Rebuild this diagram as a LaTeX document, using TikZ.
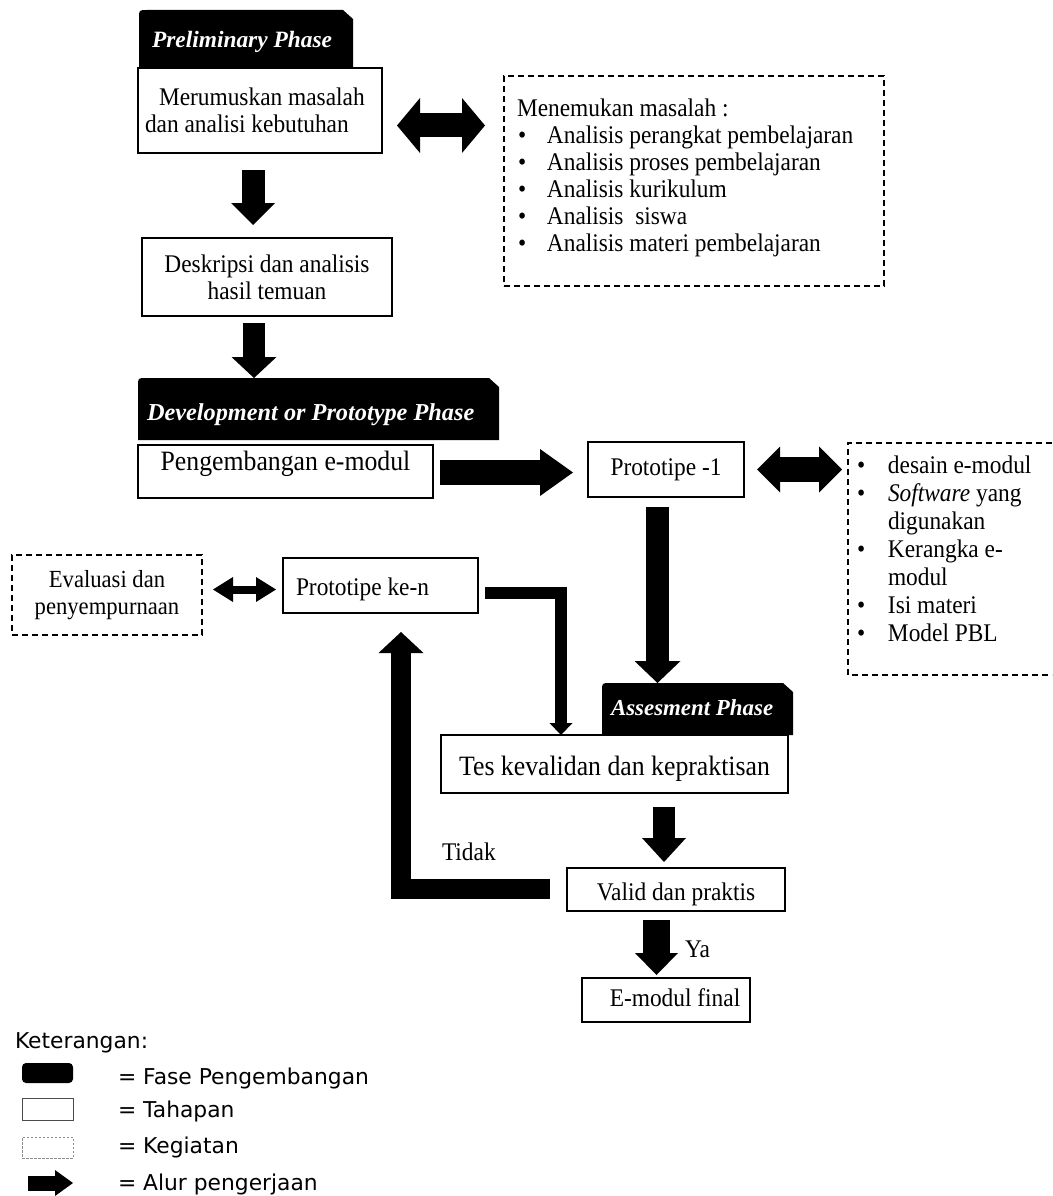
\documentclass[tikz,border=0pt]{standalone}
\usepackage{fontspec}
\setmainfont{Liberation Serif}
\newfontfamily\tallfont{Liberation Serif}[FakeStretch=0.92]
\newfontfamily\legendfont{DejaVu Sans}
\usetikzlibrary{arrows.meta}
\newcommand\mfont{\tallfont\fontsize{25.4}{27}\selectfont}
\newcommand\bgfont{\tallfont\fontsize{28}{30}\selectfont}
\newcommand\evfont{\tallfont\fontsize{24.6}{27}\selectfont}
\newcommand\lfont{\legendfont\fontsize{21.8}{25}\selectfont}
\newcommand\tabfont[1]{\fontsize{#1}{28}\selectfont\bfseries\itshape}
\tikzset{
  box/.style={draw=black, line width=1.8pt, font=\mfont, align=center},
  dbox/.style={draw=black, line width=1.6pt, dash pattern=on 6pt off 4pt},
  tab/.style={fill=white, text=white, align=flush left,
    path picture={\fill[black] (path picture bounding box.south west)
      -- ([yshift=-8pt]path picture bounding box.north west)
      .. controls (path picture bounding box.north west) .. ([xshift=8pt]path picture bounding box.north west)
      -- ([xshift=-10pt]path picture bounding box.north east)
      -- ([yshift=-9pt]path picture bounding box.north east)
      -- (path picture bounding box.south east) -- cycle;}},
  barrow/.style n args={3}{line width=#1, -{Triangle[length=#2, width=#3, line width=0pt]}},
  dbarrow/.style n args={3}{line width=#1, {Triangle[length=#2, width=#3, line width=0pt]}-{Triangle[length=#2, width=#3, line width=0pt]}},
  lbl/.style={font=\mfont, anchor=base west},
  ltext/.style={font=\lfont, anchor=base west}
}
\begin{document}
\begin{tikzpicture}[x=1pt, y=-1pt, every node/.style={inner sep=0pt, outer sep=0pt}]
\fill[white] (0,0) rectangle (1052,1196);
\useasboundingbox (0,0) rectangle (1052,1196);

% ---- boxes (Tahapan)
\node[box, minimum width=244pt, minimum height=85pt, text width=230pt, align=flush left] (m1) at (260,110.5)
  {\hspace*{14pt}Merumuskan masalah\\dan analisi kebutuhan};
\node[box, minimum width=250pt, minimum height=78pt] (d2) at (267,277) {Deskripsi dan analisis\\hasil temuan};
\node[box, font=\bgfont, minimum width=295pt, minimum height=53pt, text height=17.7pt, text depth=20.7pt] (m2) at (285.5,471.5) {Pengembangan e-modul};
\node[box, minimum width=156pt, minimum height=55pt] (pr1) at (666,469.5) {Prototipe -1};
\node[box, minimum width=195pt, minimum height=55pt, text width=169pt, align=flush left, text height=24pt, text depth=5pt] (pk) at (380.5,585.5) {Prototipe ke-n};
\node[box, font=\bgfont, minimum width=347pt, minimum height=58pt, text height=27.6pt, text depth=5.6pt] (t1) at (614.5,764) {Tes kevalidan dan kepraktisan};
\node[box, minimum width=218pt, minimum height=43pt, text height=26pt, text depth=5pt] (v1) at (676,889.5) {Valid dan praktis};
\node[box, minimum width=168pt, minimum height=44pt, text height=16pt, text depth=4pt] (e1) at (666,1000) {\hspace{18pt}E-modul final};

% ---- dashed boxes (Kegiatan)
\node[dbox, minimum width=380pt, minimum height=210pt] (d1) at (694,181) {};
\node[font=\mfont, anchor=base west] (d1t) at (517,117) {\vtop{\baselineskip=27pt
  \hbox{Menemukan masalah :}
  \hbox{\makebox[30pt][l]{\hspace{1pt}•}Analisis perangkat pembelajaran}
  \hbox{\makebox[30pt][l]{\hspace{1pt}•}Analisis proses pembelajaran}
  \hbox{\makebox[30pt][l]{\hspace{1pt}•}Analisis kurikulum}
  \hbox{\makebox[30pt][l]{\hspace{1pt}•}Analisis~ siswa}
  \hbox{\makebox[30pt][l]{\hspace{1pt}•}Analisis materi pembelajaran}}};

\node[minimum width=204pt, minimum height=232pt] (dr) at (950,559) {};
\draw[line width=1.6pt, dash pattern=on 6pt off 4pt] (dr.north east) -- (dr.north west) -- (dr.south west) -- (dr.south east);
\node[font=\mfont, anchor=base west] (drt) at (857,473) {\vtop{\baselineskip=28pt
  \hbox{\makebox[31pt][l]{•}desain e-modul}
  \hbox{\makebox[31pt][l]{•}\textit{Software} yang}
  \hbox{\hspace{31pt}digunakan}
  \hbox{\makebox[31pt][l]{•}Kerangka e-}
  \hbox{\hspace{31pt}modul}
  \hbox{\makebox[31pt][l]{•}Isi materi}
  \hbox{\makebox[31pt][l]{•}Model PBL}}};

\node[dbox, font=\evfont, align=center, minimum width=190pt, minimum height=80pt] (ev) at (107,595) {Evaluasi dan\\penyempurnaan};

% ---- phase tabs
\node[tab, font={\tabfont{23.4}}, minimum width=214pt, minimum height=59pt, text width=188pt, text height=21pt, text depth=5pt] (p1) at (246,39.5) {Preliminary Phase};
\node[tab, font={\tabfont{24.3}}, minimum width=361pt, minimum height=62pt, text width=343pt, text height=27pt, text depth=5pt] (p2) at (318.5,409) {Development or Prototype Phase};
\node[tab, font={\tabfont{22.9}}, minimum width=191pt, minimum height=52pt, text width=173pt, text height=16pt, text depth=4pt] (p3) at (697.5,709) {Assesment Phase};

% ---- connectors
\draw[dbarrow={24pt}{23pt}{55pt}] ([xshift=15pt,yshift=-15pt]m1.east) -- ([xshift=-19pt,yshift=-15pt]d1.west |- m1.east);
\draw[barrow={23pt}{22pt}{44pt}] ([xshift=-7pt,yshift=-17pt]m1.south) -- ([xshift=-14pt,yshift=13pt]d2.north);
\draw[barrow={22pt}{21pt}{45pt}] ([xshift=-13pt,yshift=-7pt]d2.south) -- ([xshift=-64.5pt]p2.north);
\draw[barrow={25pt}{33pt}{47pt}] ([xshift=7pt,yshift=-1pt]m2.east) -- ([xshift=-15pt,yshift=-1pt]pr1.west |- m2.east);
\draw[dbarrow={25pt}{23pt}{46pt}] ([xshift=13pt]pr1.east) -- ([xshift=-6pt]dr.west |- pr1.east);
\draw[barrow={23pt}{22pt}{46pt}] ([xshift=-8.5pt,yshift=-10pt]pr1.south) -- ([xshift=-40pt]p3.north);
\draw[barrow={12pt}{12pt}{23pt}, line join=miter] ([xshift=7pt,yshift=-7pt]pk.east) -| ([xshift=-53.5pt]t1.north);
\draw[barrow={22pt}{24pt}{44pt}] ([xshift=49.5pt,yshift=-14pt]t1.south) -- ([xshift=-12pt,yshift=6pt]v1.north);
\draw[barrow={27pt}{22pt}{43pt}] ([xshift=-19.5pt,yshift=-9pt]v1.south) -- ([xshift=-9.5pt,yshift=3pt]e1.north);
\draw[barrow={20pt}{21pt}{45pt}, line join=miter] ([xshift=-17pt,yshift=1pt]v1.west) -| ([xshift=20.5pt,yshift=-19pt]pk.south);
\draw[dbarrow={8pt}{20pt}{25pt}] ([xshift=11pt,yshift=-4pt]ev.east |- pk.west) -- ([xshift=-7pt,yshift=-4pt]pk.west);

\node[lbl] (tidak) at (442,860) {Tidak};
\node[lbl] (ya) at (685,957) {Ya};

% ---- legend
\node[ltext] (ket) at (15,1048) {Keterangan:};
\node[fill=black, rounded corners=4pt, minimum width=51pt, minimum height=20pt] (lg1) at (47.5,1073) {};
\node[draw=black!70, line width=1pt, minimum width=51pt, minimum height=22pt] (lg2) at (47.5,1109) {};
\node[draw=black!45, line width=0.8pt, dash pattern=on 2.5pt off 1.5pt, minimum width=51pt, minimum height=21pt] (lg3) at (47.5,1147.5) {};
\coordinate (la) at (28,1183);
\coordinate (lb) at (73,1183);
\draw[barrow={15pt}{18pt}{26pt}] (la) -- (lb);
\node[ltext] (lt1) at (118,1084) {= Fase Pengembangan};
\node[ltext] (lt2) at (118,1117) {= Tahapan};
\node[ltext] (lt3) at (118,1153) {= Kegiatan};
\node[ltext] (lt4) at (118,1190) {= Alur pengerjaan};
\end{tikzpicture}
\end{document}
